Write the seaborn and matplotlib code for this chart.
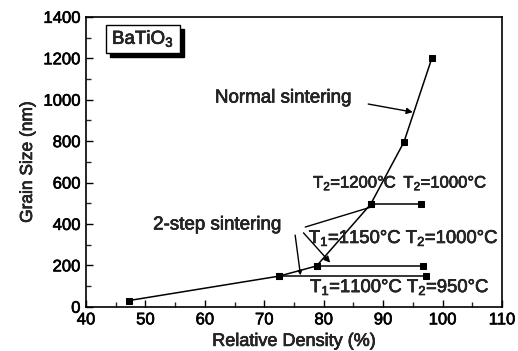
import matplotlib
matplotlib.use("Agg")
import matplotlib.pyplot as plt
from matplotlib.patches import Rectangle
from matplotlib.ticker import MultipleLocator
import matplotlib.patheffects as pe
import seaborn as sns
import pandas as pd

# ---- data ----
normal_density = [47.2, 72.5, 78.8, 87.9, 93.5, 98.2]
normal_size = [30, 148, 197, 495, 795, 1200]

step_upper_density = [87.9, 96.4]
step_upper_size = [495, 495]
step_mid_density = [78.8, 96.7]
step_mid_size = [197, 197]
step_low_density = [72.5, 97.2]
step_low_size = [148, 148]

x_ticks = [40, 50, 60, 70, 80, 90, 100, 110]
y_ticks = [0, 200, 400, 600, 800, 1000, 1200, 1400]

sns.set_theme(style="ticks")
plt.rcParams["font.family"] = ["Liberation Sans", "DejaVu Sans"]
plt.rcParams["mathtext.fontset"] = "custom"
plt.rcParams["mathtext.rm"] = "Liberation Sans"
plt.rcParams["mathtext.it"] = "Liberation Sans:italic"
plt.rcParams["mathtext.bf"] = "Liberation Sans:bold"

bold_fx = [pe.withStroke(linewidth=0.45, foreground="black")]

fig = plt.figure(figsize=(5.18, 3.51), dpi=100)
ax = fig.add_axes([0.166, 0.126, 0.803, 0.826])

normal_df = pd.DataFrame({"density": normal_density, "size": normal_size})
sns.lineplot(data=normal_df, x="density", y="size", sort=False, color="black",
             marker="s", markersize=4.5, markeredgecolor="black", linewidth=1.1, ax=ax)

for dx, dy in [(step_upper_density, step_upper_size),
               (step_mid_density, step_mid_size),
               (step_low_density, step_low_size)]:
    sdf = pd.DataFrame({"density": dx, "size": dy})
    sns.lineplot(data=sdf, x="density", y="size", sort=False, color="black",
                 marker="s", markersize=4.5, markeredgecolor="black", linewidth=1.1, ax=ax)

ax.set_xlim(40, 110)
ax.set_ylim(0, 1400)
ax.set_xticks(x_ticks)
ax.set_yticks(y_ticks)
ax.xaxis.set_minor_locator(MultipleLocator(5))
ax.yaxis.set_minor_locator(MultipleLocator(100))
ax.tick_params(axis="both", which="major", direction="in", length=5, width=1.0,
               labelsize=12, pad=4, colors="black")
ax.tick_params(axis="both", which="minor", direction="in", length=3.5, width=1.0)
for s in ax.spines.values():
    s.set_linewidth(1.2)
    s.set_color("black")
for lab in ax.get_xticklabels() + ax.get_yticklabels():
    lab.set_path_effects(bold_fx)

ax.set_xlabel("Relative Density (%)", fontsize=13, labelpad=4, path_effects=bold_fx)
ax.set_ylabel("Grain Size (nm)", fontsize=12.5, labelpad=6, path_effects=bold_fx)

# BaTiO3 box with shadow
ax.add_patch(Rectangle((0.058, 0.862), 0.178, 0.096, transform=ax.transAxes,
                       facecolor="black", edgecolor="black", zorder=4, clip_on=False))
ax.add_patch(Rectangle((0.048, 0.876), 0.178, 0.096, transform=ax.transAxes,
                       facecolor="white", edgecolor="black", linewidth=1.0, zorder=5, clip_on=False))
ax.text(0.137, 0.924, "BaTiO$_3$", transform=ax.transAxes, ha="center", va="center",
        fontsize=13.5, zorder=6, path_effects=bold_fx)

# annotations
ax.text(61.7, 1008, "Normal sintering", fontsize=13.5, va="center", ha="left", path_effects=bold_fx)
ax.annotate("", xy=(95.0, 940), xytext=(87.5, 979),
            arrowprops=dict(arrowstyle="-|>", color="black", lw=1.0, mutation_scale=9,
                            shrinkA=0, shrinkB=0))

ax.text(51.3, 395, "2-step sintering", fontsize=13.5, va="center", ha="left", path_effects=bold_fx)
ax.annotate("", xy=(87.8, 480), xytext=(76.9, 385),
            arrowprops=dict(arrowstyle="-", color="black", lw=1.0, shrinkA=0, shrinkB=0))
ax.annotate("", xy=(81.1, 213), xytext=(76.6, 357),
            arrowprops=dict(arrowstyle="-|>", color="black", lw=1.0, mutation_scale=9,
                            shrinkA=0, shrinkB=0))
ax.annotate("", xy=(76.1, 152), xytext=(75.2, 346),
            arrowprops=dict(arrowstyle="-|>", color="black", lw=1.0, mutation_scale=6,
                            shrinkA=0, shrinkB=0))

ax.text(78.2, 598, "T$_2$=1200°C", fontsize=12, va="center", ha="left", path_effects=bold_fx)
ax.text(93.4, 598, "T$_2$=1000°C", fontsize=12, va="center", ha="left", path_effects=bold_fx)
ax.text(77.5, 332, "T$_1$=1150°C T$_2$=1000°C", fontsize=13.3, va="center", ha="left",
        path_effects=bold_fx)
ax.text(77.7, 95, "T$_1$=1100°C T$_2$=950°C", fontsize=13.3, va="center", ha="left",
        path_effects=bold_fx)

fig.savefig("out.png", dpi=100)
